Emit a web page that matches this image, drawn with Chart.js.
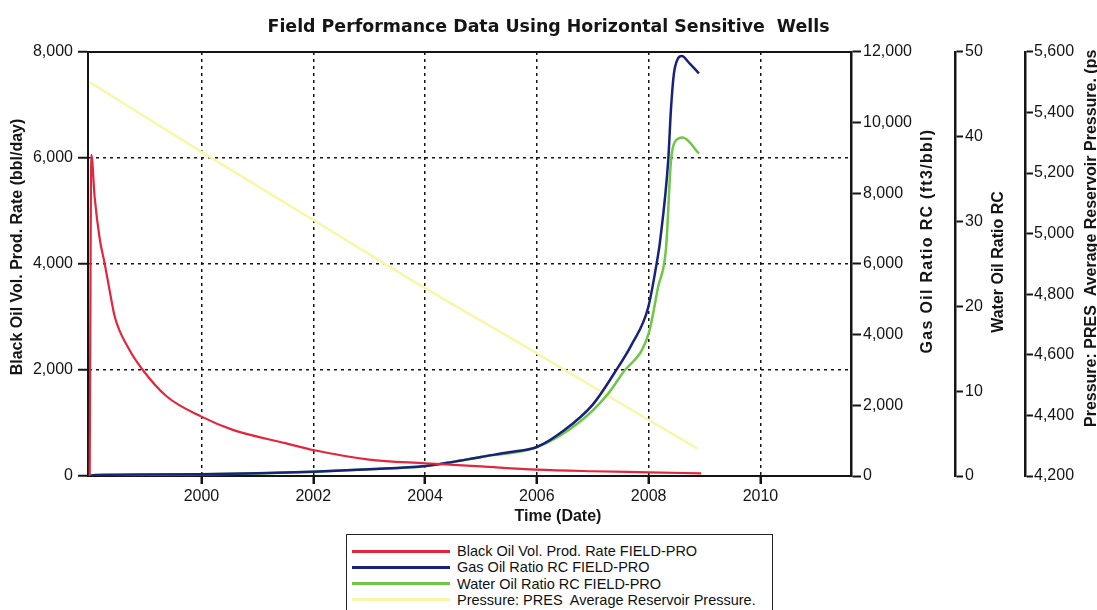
<!DOCTYPE html>
<html>
<head>
<meta charset="utf-8">
<script src="https://cdn.jsdelivr.net/npm/chart.js@4"></script>
<style>
    html, body { margin: 0; padding: 0; background: #fff; }
    #wrap { position: relative; width: 1097px; height: 610px; overflow: hidden; }
    #legend {
        position: absolute; left: 346px; top: 534px; width: 425px; height: 90px;
        border: 1.5px solid #222; background: #fff;
        font-family: 'Liberation Sans', Arial, sans-serif; font-size: 14.5px; color: #111;
    }
    .row { position: absolute; left: 5px; height: 16px; display: flex; align-items: center; white-space: pre; }
    .sw { width: 98px; height: 3px; margin-right: 7px; }
</style>
</head>
<body>
<div id="wrap">
    <canvas id="myChart" width="1097" height="610"></canvas>
    <div id="legend"></div>
</div>
<script>
// time axis (decimal years)
const xMin = 1997.97;
const xMax = 2011.62;
const xTicks = [2000, 2002, 2004, 2006, 2008, 2010];

// Black Oil Vol. Prod. Rate (bbl/day), left axis
const rateDates = [1998.0, 1998.03, 1998.09, 1998.18, 1998.27, 1998.36, 1998.45, 1998.7, 1998.95, 1999.38, 2000.0, 2000.56, 2001.5, 2002.0, 2003.0, 2004.0, 2005.0, 2006.0, 2007.0, 2008.0, 2008.94];
const rateValues = [0, 6060, 5250, 4470, 4000, 3480, 3000, 2400, 2000, 1500, 1120, 870, 620, 490, 310, 240, 180, 120, 90, 70, 50];

// Gas Oil Ratio RC (ft3/bbl)
const gorDates = [1998.0, 1998.1, 1999.0, 2000.0, 2001.0, 2002.0, 2003.0, 2004.0, 2004.5, 2005.0, 2005.5, 2006.0, 2006.47, 2007.0, 2007.39, 2007.7, 2007.99, 2008.17, 2008.2, 2008.35, 2008.4, 2008.45, 2008.52, 2008.59, 2008.74, 2008.9];
const gorValues = [0, 30, 40, 50, 80, 120, 190, 280, 400, 540, 670, 820, 1270, 2020, 2920, 3730, 4760, 6270, 6590, 8930, 10400, 11360, 11800, 11880, 11660, 11390];

// Water Oil Ratio RC
const worDates = [1998.0, 1999.0, 2000.0, 2001.0, 2002.0, 2003.0, 2004.0, 2005.0, 2006.0, 2006.77, 2007.25, 2007.53, 2008.0, 2008.17, 2008.31, 2008.4, 2008.47, 2008.61, 2008.9];
const worValues = [0, 0.15, 0.2, 0.3, 0.5, 0.8, 1.15, 2.25, 3.4, 6.4, 9.5, 12.1, 16.8, 22.3, 26.8, 37.2, 39.4, 39.9, 38.0];

// Pressure: PRES Average Reservoir Pressure (psia)
const presDates = [1998.0, 2000.0, 2002.0, 2004.0, 2006.0, 2008.0, 2008.88];
const presValues = [5500, 5270, 5045, 4820, 4605, 4385, 4290];

const seriesLabels = [
    'Black Oil Vol. Prod. Rate FIELD-PRO',
    'Gas Oil Ratio RC FIELD-PRO',
    'Water Oil Ratio RC FIELD-PRO',
    'Pressure: PRES  Average Reservoir Pressure.'
];
const seriesColors = ['rgb(226, 38, 62)', 'rgb(24, 34, 122)', 'rgb(112, 198, 70)', 'rgb(248, 246, 168)'];

const FONT = "'Liberation Sans', Arial, sans-serif";
const INK = '#151515';

function points(dates, values) {
    return dates.map((d, i) => ({x: d, y: values[i]}));
}

function commas(v) {
    return Number(v).toLocaleString('en-US');
}

function drawVertical(ctx, text, x, y, align, spacing) {
    ctx.save();
    ctx.translate(x, y);
    ctx.rotate(-Math.PI / 2);
    if ('letterSpacing' in ctx) ctx.letterSpacing = (spacing || 0) + 'px';
    ctx.textAlign = align;
    ctx.textBaseline = 'middle';
    ctx.fillText(text, 0, 0);
    ctx.restore();
}

// axis titles read bottom-to-top on every axis, plus the solid top frame line
const axisTitles = {
    id: 'axisTitles',
    afterDraw(chart) {
        const ctx = chart.ctx;
        const area = chart.chartArea;
        const s = chart.scales;
        ctx.save();
        ctx.strokeStyle = INK;
        ctx.lineWidth = 2;
        ctx.beginPath();
        ctx.moveTo(area.left - 1, area.top);
        ctx.lineTo(area.right + 1, area.top);
        ctx.stroke();

        ctx.fillStyle = INK;
        ctx.font = 'bold 16px ' + FONT;
        drawVertical(ctx, 'Black Oil Vol. Prod. Rate (bbl/day)', s.y.left + 18, 247, 'center');
        drawVertical(ctx, 'Gas Oil Ratio RC (ft3/bbl)', s.gor.left + 77, 241, 'center', 1.3);
        drawVertical(ctx, 'Water Oil Ratio RC', s.wor.left + 44, 262, 'center');
        drawVertical(ctx, 'Pressure: PRES  Average Reservoir Pressure. (ps', s.pres.left + 67, 427, 'left');

        ctx.textAlign = 'center';
        ctx.textBaseline = 'middle';
        ctx.fillText('Time (Date)', 558, 517);
        ctx.restore();
    }
};

const tickFont = {family: FONT, size: 16};

const ctx = document.getElementById('myChart').getContext('2d');
const chart = new Chart(ctx, {
    type: 'line',
    data: {
        datasets: [
            {label: seriesLabels[0], data: points(rateDates, rateValues), yAxisID: 'y', borderColor: seriesColors[0], borderWidth: 2.2},
            {label: seriesLabels[1], data: points(gorDates, gorValues), yAxisID: 'gor', borderColor: seriesColors[1], borderWidth: 2.5},
            {label: seriesLabels[2], data: points(worDates, worValues), yAxisID: 'wor', borderColor: seriesColors[2], borderWidth: 2.5},
            {label: seriesLabels[3], data: points(presDates, presValues), yAxisID: 'pres', borderColor: seriesColors[3], borderWidth: 2.5},
        ]
    },
    options: {
        responsive: false,
        animation: false,
        devicePixelRatio: 1,
        elements: {point: {radius: 0}, line: {cubicInterpolationMode: 'monotone'}},
        layout: {padding: {left: 0, right: 0, top: 0, bottom: 78}},
        plugins: {
            legend: {display: false},
            tooltip: {enabled: false},
            title: {
                display: true,
                text: 'Field Performance Data Using Horizontal Sensitive  Wells',
                color: INK,
                font: {family: "'DejaVu Sans', sans-serif", size: 17.4, weight: 'bold'},
                padding: {top: 17, bottom: 14},
            },
        },
        scales: {
            x: {
                type: 'linear',
                position: 'bottom',
                min: xMin,
                max: xMax,
                afterBuildTicks: (axis) => { axis.ticks = xTicks.map(v => ({value: v})); },
                afterFit: (axis) => { axis.height = 56; },
                ticks: {font: tickFont, color: INK, padding: 3, maxRotation: 0, callback: (v) => String(v)},
                grid: {color: INK, lineWidth: 1.5, tickLength: 8, tickColor: INK, tickWidth: 2.5, tickBorderDash: []},
                border: {color: INK, width: 2, dash: [3, 4]},
            },
            y: {
                position: 'left',
                min: 0,
                max: 8000,
                afterFit: (axis) => { axis.width = 88; },
                ticks: {stepSize: 2000, font: tickFont, color: INK, padding: 5, callback: commas},
                grid: {
                    color: (c) => (c.tick && (c.tick.value === 0 || c.tick.value === 8000)) ? 'rgba(0,0,0,0)' : INK,
                    lineWidth: 1.5, tickLength: 10, tickColor: INK, tickWidth: 2, tickBorderDash: []
                },
                border: {color: INK, width: 2, dash: [3, 4]},
            },
            gor: {
                position: 'right',
                min: 0,
                max: 12000,
                afterFit: (axis) => { axis.width = 104; },
                ticks: {stepSize: 2000, font: tickFont, color: INK, padding: 2, callback: commas},
                grid: {drawOnChartArea: false, tickLength: 10, tickColor: INK, tickWidth: 2},
                border: {color: INK, width: 2.5},
            },
            wor: {
                position: 'right',
                min: 0,
                max: 50,
                afterFit: (axis) => { axis.width = 70; },
                ticks: {stepSize: 10, font: tickFont, color: INK, padding: 2},
                grid: {drawOnChartArea: false, tickLength: 8, tickColor: INK, tickWidth: 2},
                border: {color: INK, width: 2.5},
            },
            pres: {
                position: 'right',
                min: 4200,
                max: 5600,
                afterFit: (axis) => { axis.width = 72; },
                ticks: {stepSize: 200, font: tickFont, color: INK, padding: 1, callback: commas},
                grid: {drawOnChartArea: false, tickLength: 8, tickColor: INK, tickWidth: 2},
                border: {color: INK, width: 2.5},
            },
        }
    },
    plugins: [axisTitles]
});

// legend box below the plot, one row per dataset
const legend = document.getElementById('legend');
chart.data.datasets.forEach((ds, i) => {
    const row = document.createElement('div');
    row.className = 'row';
    row.style.top = (8 + i * 16.3) + 'px';
    const sw = document.createElement('span');
    sw.className = 'sw';
    sw.style.background = ds.borderColor;
    const label = document.createElement('span');
    label.textContent = ds.label;
    row.appendChild(sw);
    row.appendChild(label);
    legend.appendChild(row);
});
</script>
</body>
</html>
